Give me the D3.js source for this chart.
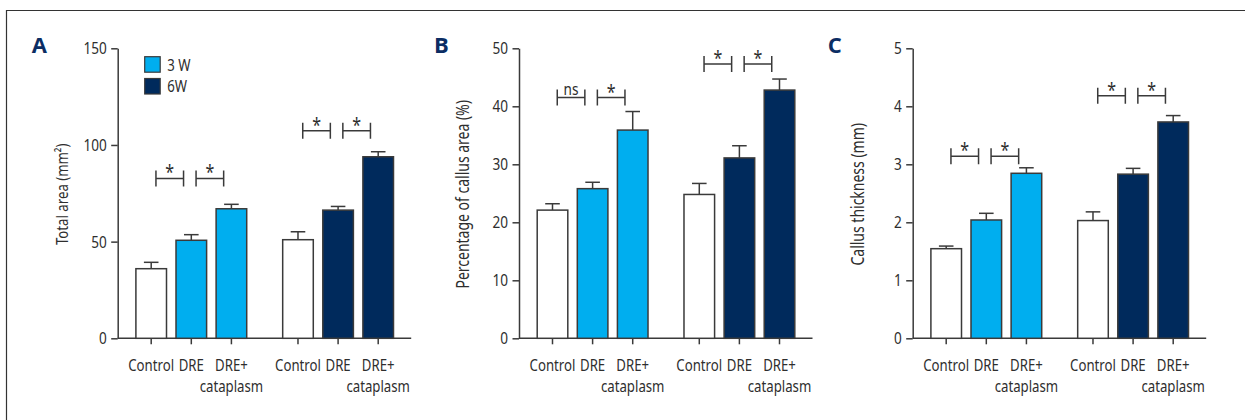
<!DOCTYPE html>
<html lang="en">
<head>
<meta charset="UTF-8">
<title>Callus measurements</title>
<script src="https://d3js.org/d3.v7.min.js"></script>
<style>
  body { margin: 0; background: #fff; }
  text { font-family: "Noto Sans", "Open Sans", sans-serif; fill: #2e2e2e; }
</style>
</head>
<body>
<div id="chart"></div>
<script>
// groups and bars
var categories = ["Control", "DRE", "DRE+\ncataplasm"];
var weeks = ["3 W", "6W"];

// panel A: total area (mm2)
var areaMean = [[36.0, 50.7, 67.0], [51.0, 66.3, 93.9]];
var areaErr  = [[39.3, 53.6, 69.3], [55.1, 68.2, 96.5]];
var areaSig  = [[82.7, "*", "*"], [107.3, "*", "*"]];
var areaTicks = [0, 50, 100, 150];

// panel B: percentage of callus area (%)
var pctMean = [[22.1, 25.8, 35.9], [24.8, 31.1, 42.8]];
var pctErr  = [[23.2, 26.9, 39.1], [26.7, 33.2, 44.7]];
var pctSig  = [[41.5, "ns", "*"], [47.3, "*", "*"]];
var pctTicks = [0, 10, 20, 30, 40, 50];

// panel C: callus thickness (mm)
var thickMean = [[1.545, 2.04, 2.845], [2.03, 2.83, 3.73]];
var thickErr  = [[1.59, 2.155, 2.94], [2.18, 2.93, 3.84]];
var thickSig  = [[3.14, "*", "*"], [4.18, "*", "*"]];
var thickTicks = [0, 1, 2, 3, 4, 5];

var panels = [
  { letter: "A", title: "Total area (mm\u00b2)", mean: areaMean, err: areaErr, sig: areaSig, ticks: areaTicks, max: 150, left: 117.7, tx: -50, ts: 16.5 },
  { letter: "B", title: "Percentage of callus area (%)", mean: pctMean, err: pctErr, sig: pctSig, ticks: pctTicks, max: 50, left: 519, tx: -50.5, ts: 17.5 },
  { letter: "C", title: "Callus thickness (mm)", mean: thickMean, err: thickErr, sig: thickSig, ticks: thickTicks, max: 5, left: 912.7, tx: -49, ts: 17.5 }
];

var fills = ["#00aeef", "#002a5c"];
var navy = "#0b2d63";
var stroke = "#3a3a3a";
var W = 1245, H = 420;
var top0 = 48.3, bottom0 = 338.3;
var gap = 1.66;
var barW = 30.6;
var squeeze = 0.8;

var svg = d3.select("#chart").append("svg")
  .attr("width", W)
  .attr("height", H);

// horizontally condense a text around its anchor point
function narrow(sel) {
  sel.each(function () {
    var t = d3.select(this);
    var x = +t.attr("x") || 0, y = +t.attr("y") || 0;
    t.attr("transform", "translate(" + x + "," + y + ") scale(" + squeeze + ",1) translate(" + (-x) + "," + (-y) + ")");
  });
}

// frame lines
svg.append("path")
  .attr("d", "M6.5," + H + "V10.5H" + W)
  .attr("fill", "none")
  .attr("stroke", "#333")
  .attr("stroke-width", 1.2);

panels.forEach(function (p) {
  var g = svg.append("g").attr("transform", "translate(" + p.left + ",0)");

  var y = d3.scaleLinear().domain([0, p.max]).range([bottom0, top0]);
  var x = d3.scaleLinear().domain([0, 2 * 2 + gap]).range([33.5, 260.5]);
  function slot(gi, i) { return gi * (2 + gap) + i; }

  // y axis
  var yAxis = g.append("g")
    .call(d3.axisLeft(y).tickValues(p.ticks).tickFormat(d3.format("~g"))
      .tickSize(6.5).tickPadding(4.5).tickSizeOuter(0));
  yAxis.select(".domain").attr("stroke", stroke).attr("stroke-width", 1.5);
  yAxis.selectAll(".tick line").attr("stroke", stroke).attr("stroke-width", 1.5);
  yAxis.selectAll(".tick text")
    .attr("fill", "#2e2e2e")
    .style("font-size", "17px")
    .style("font-family", "'Noto Sans', 'Open Sans', sans-serif")
    .call(narrow);

  // x axis line with ticks under each bar
  g.append("line")
    .attr("x1", 0).attr("x2", 293.5)
    .attr("y1", bottom0).attr("y2", bottom0)
    .attr("stroke", stroke).attr("stroke-width", 1.5);

  p.mean.forEach(function (row, gi) {
    row.forEach(function (v, i) {
      var cx = x(slot(gi, i));
      g.append("line")
        .attr("x1", cx).attr("x2", cx)
        .attr("y1", bottom0).attr("y2", bottom0 + 6)
        .attr("stroke", stroke).attr("stroke-width", 1.5);

      // error bar (upper only)
      var e = p.err[gi][i];
      g.append("line")
        .attr("x1", cx).attr("x2", cx)
        .attr("y1", y(v)).attr("y2", y(e))
        .attr("stroke", stroke).attr("stroke-width", 1.5);
      g.append("line")
        .attr("x1", cx - 7.3).attr("x2", cx + 7.3)
        .attr("y1", y(e)).attr("y2", y(e))
        .attr("stroke", stroke).attr("stroke-width", 1.5);

      g.append("rect")
        .attr("x", cx - barW / 2)
        .attr("y", y(v))
        .attr("width", barW)
        .attr("height", y(0) - y(v))
        .attr("fill", i === 0 ? "#fff" : fills[gi])
        .attr("stroke", stroke)
        .attr("stroke-width", 1.5);

      // category labels
      var lines = categories[i].split("\n");
      lines.forEach(function (t, k) {
        g.append("text")
          .attr("x", cx)
          .attr("y", 371.5 + k * 20.5)
          .attr("text-anchor", "middle")
          .style("font-size", "16.5px")
          .text(t)
          .call(narrow);
      });
    });

    // significance brackets between neighbours
    var level = y(p.sig[gi][0]);
    [1, 2].forEach(function (j) {
      var mid = (x(slot(gi, j - 1)) + x(slot(gi, j))) / 2 - 1.5;
      var bx0 = mid - 13.8, bx1 = mid + 13.8;
      g.append("path")
        .attr("d", "M" + bx0 + "," + (level - 8) + "V" + (level + 8) +
                   "M" + bx0 + "," + level + "H" + bx1 +
                   "M" + bx1 + "," + (level - 8) + "V" + (level + 8))
        .attr("fill", "none")
        .attr("stroke", stroke)
        .attr("stroke-width", 1.5);
      var lab = p.sig[gi][j];
      g.append("text")
        .attr("x", mid)
        .attr("y", lab === "*" ? level + 1 : level - 2.5)
        .attr("text-anchor", "middle")
        .style("font-size", lab === "*" ? "20px" : "17px")
        .text(lab)
        .call(narrow);
    });
  });

  // y axis title
  g.append("text")
    .attr("transform", "translate(" + p.tx + "," + ((top0 + bottom0) / 2 + 1) + ") rotate(-90) scale(" + squeeze + ",1)")
    .attr("text-anchor", "middle")
    .style("font-size", p.ts + "px")
    .text(p.title);

  // panel letter
  g.append("text")
    .attr("x", p.letter === "A" ? -86 : -85)
    .attr("y", 52.5)
    .style("font-family", "'Open Sans', 'DejaVu Sans', sans-serif")
    .style("font-weight", "bold")
    .style("font-size", "22px")
    .style("fill", navy)
    .text(p.letter);
});

// legend in panel A
var leg = svg.append("g").attr("transform", "translate(144.7,56.7)");
weeks.forEach(function (w, i) {
  leg.append("rect")
    .attr("x", 0).attr("y", i * 21.8)
    .attr("width", 15.5).attr("height", 15.5)
    .attr("fill", fills[i])
    .attr("stroke", stroke)
    .attr("stroke-width", 1.2);
  leg.append("text")
    .attr("x", 22.5).attr("y", i * 21.8 + 14)
    .style("font-size", "16.5px")
    .text(w)
    .call(narrow);
});
</script>
</body>
</html>
